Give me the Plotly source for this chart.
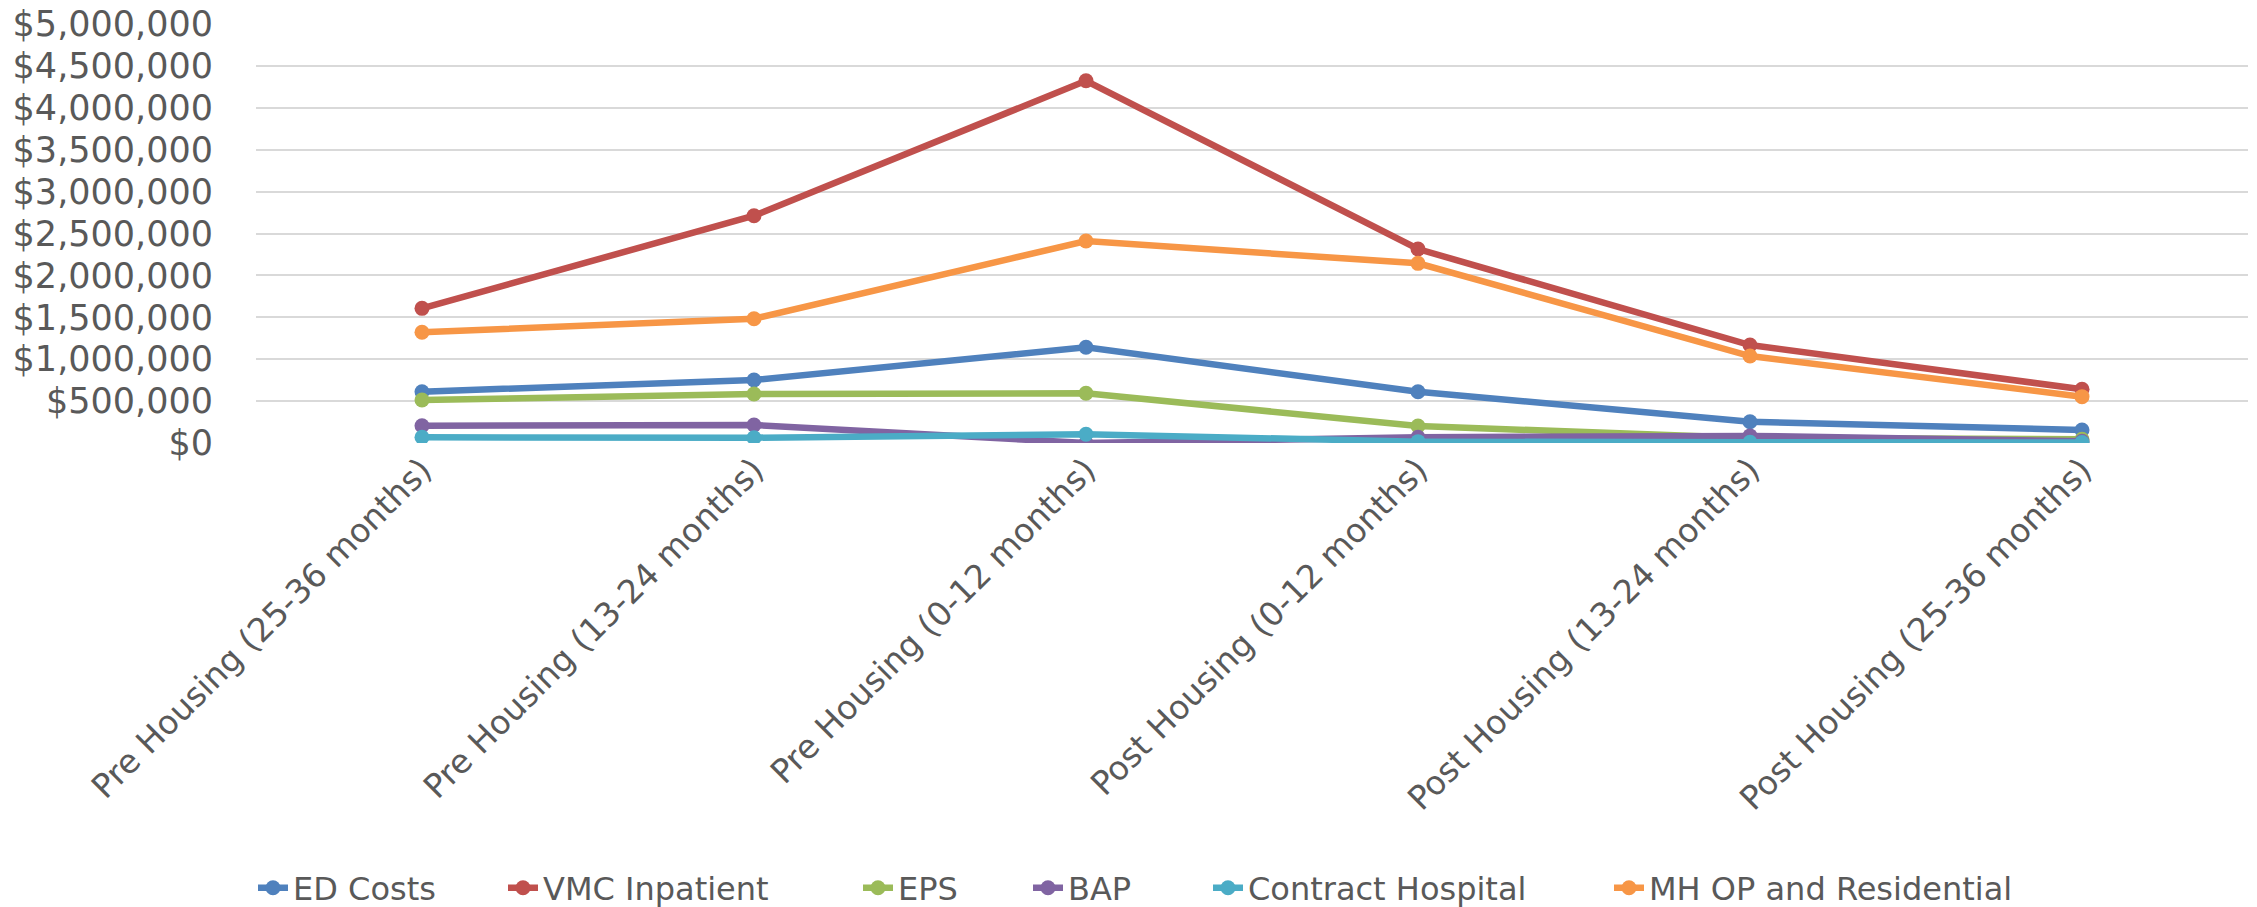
import plotly.graph_objects as go

categories = [
    "Pre Housing (25-36 months)",
    "Pre Housing (13-24 months)",
    "Pre Housing (0-12 months)",
    "Post Housing (0-12 months)",
    "Post Housing (13-24 months)",
    "Post Housing (25-36 months)",
]

ed_costs = [612000, 752000, 1142000, 612000, 254000, 155000]
vmc_inpatient = [1607000, 2712000, 4323000, 2315000, 1169000, 641000]
eps = [513000, 585000, 593000, 203000, 60000, 45000]
bap = [206000, 215000, 0, 68000, 85000, 20000]
contract_hospital = [68000, 63000, 104000, 16000, 8000, 5000]
mh_op_residential = [1321000, 1483000, 2410000, 2144000, 1038000, 553000]

series_names = ["ED Costs", "VMC Inpatient", "EPS", "BAP",
                "Contract Hospital", "MH OP and Residential"]
series_values = [ed_costs, vmc_inpatient, eps, bap,
                 contract_hospital, mh_op_residential]
series_colors = ["#4F81BD", "#C0504D", "#9BBB59", "#8064A2",
                 "#4BACC6", "#F79646"]

y_ticks = [0, 500000, 1000000, 1500000, 2000000, 2500000, 3000000,
           3500000, 4000000, 4500000, 5000000]
y_tick_text = ["$" + format(v, ",") for v in y_ticks]

# left edge (page px) of each legend entry's text in the reference
legend_text_x = [295, 545, 900, 1070, 1250, 1651]

font_family = "DejaVu Sans, sans-serif"
text_color = "#595959"

W, H = 2257, 907

fig = go.Figure()
legend_layouts = {}
for i, (name, vals, color) in enumerate(zip(series_names, series_values, series_colors)):
    lid = "legend" if i == 0 else f"legend{i + 1}"
    fig.add_trace(go.Scatter(
        x=categories, y=vals, name=name, mode="lines+markers",
        line=dict(color=color, width=6.5),
        marker=dict(color=color, size=15),
        legend=lid,
    ))
    legend_layouts[lid] = dict(
        orientation="h", xref="container", yref="container",
        x=(legend_text_x[i] - 42) / W, xanchor="left",
        y=1 - 888 / H, yanchor="middle",
        font=dict(size=32, color=text_color, family=font_family),
        bgcolor="rgba(0,0,0,0)",
    )

fig.update_layout(
    width=W, height=H,
    margin=dict(l=256, r=9, t=24, b=464, autoexpand=False),
    paper_bgcolor="white", plot_bgcolor="white",
    font=dict(family=font_family, color=text_color, size=33),
    showlegend=True,
    xaxis=dict(
        type="category", range=[-0.5, 5.5], autorange=False,
        tickangle=-45, showgrid=False, zeroline=False,
        showline=False, ticks="", tickfont=dict(size=33, color=text_color),
    ),
    yaxis=dict(
        range=[0, 5000000], autorange=False,
        tickmode="array", tickvals=y_ticks, ticktext=y_tick_text,
        showgrid=True, gridcolor="#D9D9D9", gridwidth=2,
        zeroline=False, showline=False, ticks="",
        ticklabelstandoff=42, ticklabeloverflow="allow",
        tickfont=dict(size=35, color=text_color),
    ),
    **legend_layouts,
)

# remove the browser's default 8px body margin so the figure fills the window
fig.write_html(
    "out.html",
    config={"displayModeBar": False},
    post_script="document.body.style.margin='0';",
)
